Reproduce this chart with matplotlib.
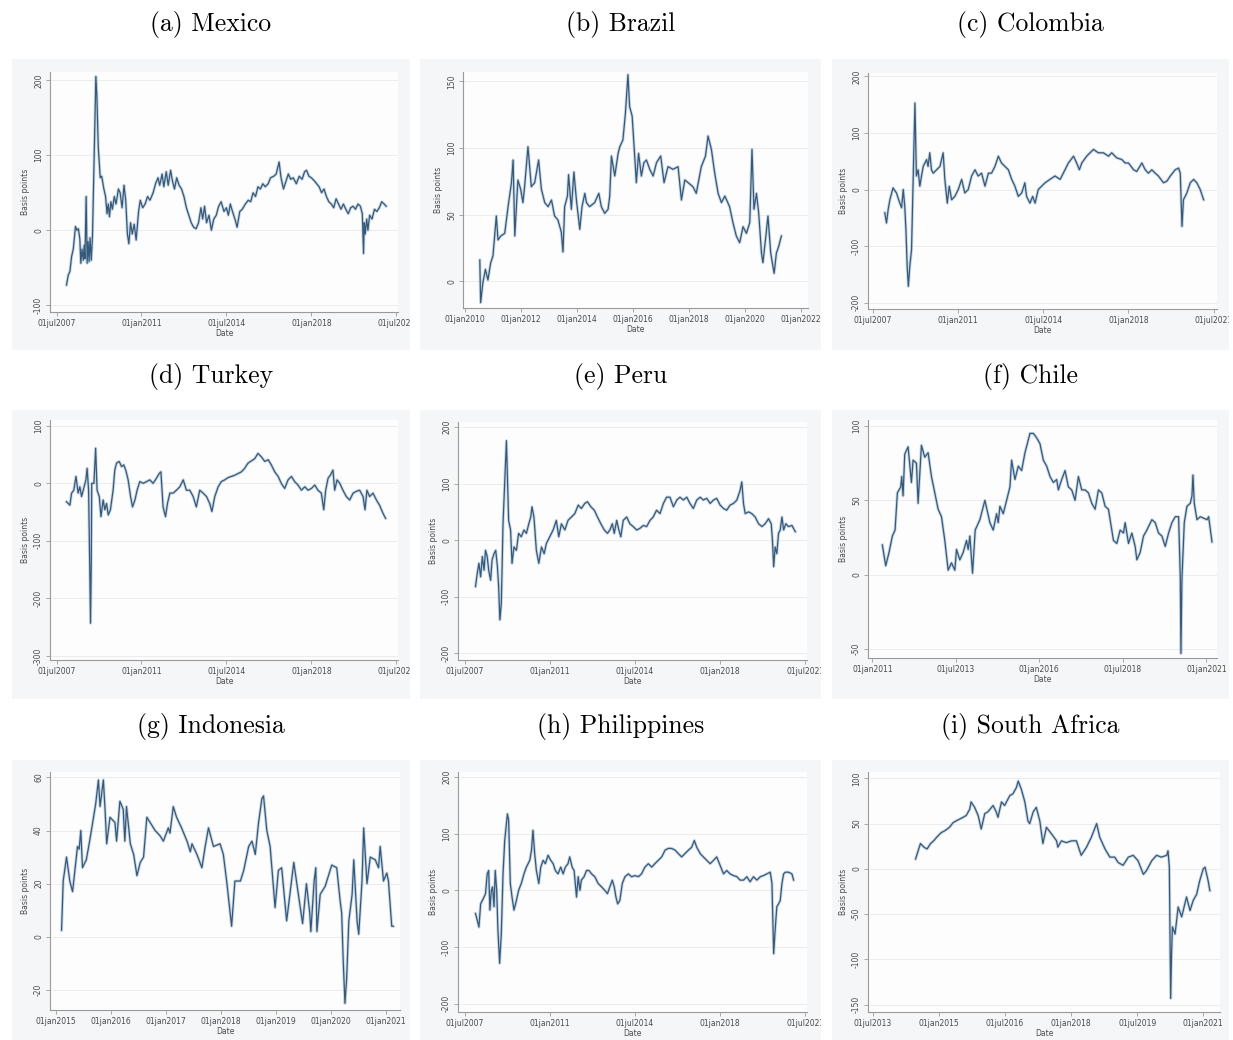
import matplotlib.pyplot as plt
from matplotlib.patches import Rectangle

# Weekly changes in sovereign spreads (basis points), decimal-year dates
mexico_t = [2007.91, 2007.98, 2008.05, 2008.12, 2008.19, 2008.28, 2008.34, 2008.40, 2008.46, 2008.50,
            2008.55, 2008.60, 2008.64, 2008.67, 2008.72, 2008.76, 2008.80, 2008.84, 2008.88, 2008.93,
            2008.98, 2009.05, 2009.12, 2009.16, 2009.22, 2009.30, 2009.36, 2009.45, 2009.52, 2009.58,
            2009.63, 2009.68, 2009.74, 2009.80, 2009.88, 2009.95, 2010.05, 2010.12, 2010.20, 2010.28,
            2010.35, 2010.42, 2010.48, 2010.55, 2010.62, 2010.70, 2010.78, 2010.88, 2010.95, 2011.05,
            2011.15, 2011.25, 2011.35, 2011.48, 2011.58, 2011.68, 2011.75, 2011.85, 2011.92, 2012.02,
            2012.10, 2012.20, 2012.28, 2012.36, 2012.45, 2012.55, 2012.65, 2012.75, 2012.85, 2012.95,
            2013.05, 2013.15, 2013.25, 2013.35, 2013.45, 2013.52, 2013.60, 2013.68, 2013.78, 2013.88,
            2013.98, 2014.08, 2014.18, 2014.28, 2014.40, 2014.50, 2014.58, 2014.66, 2014.75, 2014.85,
            2014.94, 2015.05, 2015.15, 2015.28, 2015.40, 2015.50, 2015.60, 2015.70, 2015.80, 2015.90,
            2016.00, 2016.10, 2016.22, 2016.32, 2016.45, 2016.55, 2016.67, 2016.75, 2016.85, 2016.95,
            2017.05, 2017.15, 2017.25, 2017.38, 2017.50, 2017.62, 2017.72, 2017.80, 2017.90, 2018.00,
            2018.12, 2018.22, 2018.32, 2018.42, 2018.52, 2018.62, 2018.72, 2018.82, 2018.92, 2019.02,
            2019.12, 2019.22, 2019.32, 2019.42, 2019.52, 2019.62, 2019.72, 2019.82, 2019.92, 2020.02,
            2020.10, 2020.15, 2020.18, 2020.22, 2020.28, 2020.33, 2020.40, 2020.50, 2020.60, 2020.70,
            2020.80, 2020.90, 2021.00, 2021.08]
mexico_bp = [-73, -60, -55, -35, -25, 5, 0, 2, -12, -44,
             -25, -40, -20, -38, 45, -44, -15, -42, -10, -40,
             -8, 100, 205, 180, 110, 70, 72, 55, 45, 22,
             35, 18, 38, 28, 45, 35, 55, 50, 30, 60,
             40, -5, -18, 10, -5, 8, -13, 25, 40, 30,
             35, 45, 40, 50, 62, 70, 60, 75, 58, 78,
             60, 80, 65, 55, 70, 60, 55, 45, 30, 20,
             10, 4, 2, 10, 30, 15, 32, 10, 20, 0,
             15, 20, 32, 38, 25, 30, 20, 35, 25, 15,
             4, 25, 28, 35, 40, 38, 50, 45, 58, 55,
             62, 58, 62, 70, 72, 75, 91, 70, 55, 65,
             75, 68, 70, 62, 72, 68, 78, 80, 72, 70,
             66, 62, 58, 50, 55, 45, 38, 35, 30, 42,
             35, 28, 35, 28, 22, 30, 32, 28, 35, 32,
             22, -31, 10, -5, 15, 0, 20, 15, 28, 25,
             30, 38, 35, 32]

brazil_t = [2010.54, 2010.57, 2010.65, 2010.74, 2010.83, 2010.93, 2011.01, 2011.13, 2011.19, 2011.29,
            2011.43, 2011.55, 2011.67, 2011.73, 2011.79, 2011.90, 2012.00, 2012.08, 2012.14, 2012.26,
            2012.38, 2012.50, 2012.64, 2012.74, 2012.86, 2012.98, 2013.10, 2013.21, 2013.33, 2013.45,
            2013.51, 2013.57, 2013.67, 2013.71, 2013.81, 2013.90, 2013.99, 2014.11, 2014.19, 2014.29,
            2014.35, 2014.46, 2014.64, 2014.79, 2014.88, 2015.00, 2015.12, 2015.18, 2015.24, 2015.36,
            2015.48, 2015.54, 2015.65, 2015.74, 2015.83, 2015.89, 2015.98, 2016.05, 2016.13, 2016.21,
            2016.31, 2016.40, 2016.49, 2016.61, 2016.73, 2016.85, 2017.00, 2017.12, 2017.26, 2017.44,
            2017.62, 2017.74, 2017.86, 2017.98, 2018.15, 2018.27, 2018.45, 2018.60, 2018.69, 2018.81,
            2018.93, 2019.05, 2019.17, 2019.29, 2019.46, 2019.58, 2019.70, 2019.82, 2019.94, 2020.06,
            2020.18, 2020.26, 2020.33, 2020.42, 2020.50, 2020.60, 2020.65, 2020.74, 2020.83, 2020.93,
            2021.05, 2021.13, 2021.21, 2021.31]
brazil_bp = [16, -16, -1, 9, 1, 14, 19, 49, 31, 34,
             36, 56, 74, 91, 34, 76, 69, 59, 71, 101,
             71, 74, 91, 69, 59, 56, 61, 49, 46, 37,
             22, 56, 64, 80, 54, 82, 61, 39, 56, 66,
             59, 56, 59, 66, 56, 51, 54, 64, 94, 79,
             96, 101, 106, 126, 155, 131, 124, 101, 74, 96,
             79, 89, 91, 84, 79, 89, 94, 74, 86, 84,
             86, 61, 76, 74, 71, 66, 86, 94, 109, 99,
             81, 66, 59, 64, 56, 44, 34, 29, 41, 36,
             44, 99, 54, 66, 51, 21, 14, 31, 49, 21,
             6, 21, 26, 34]

colombia_t = [2007.98, 2008.05, 2008.12, 2008.19, 2008.32, 2008.46, 2008.60, 2008.67, 2008.74, 2008.80,
              2008.85, 2008.90, 2008.95, 2009.01, 2009.08, 2009.22, 2009.28, 2009.35, 2009.42, 2009.49,
              2009.56, 2009.63, 2009.70, 2009.76, 2009.83, 2009.90, 2009.97, 2010.11, 2010.25, 2010.38,
              2010.45, 2010.55, 2010.63, 2010.73, 2010.86, 2011.00, 2011.14, 2011.27, 2011.41, 2011.55,
              2011.69, 2011.82, 2011.96, 2012.10, 2012.24, 2012.37, 2012.51, 2012.65, 2012.78, 2012.92,
              2013.06, 2013.20, 2013.33, 2013.47, 2013.61, 2013.74, 2013.81, 2013.95, 2014.06, 2014.16,
              2014.29, 2014.43, 2014.57, 2014.77, 2014.98, 2015.19, 2015.32, 2015.53, 2015.74, 2015.87,
              2015.98, 2016.08, 2016.28, 2016.56, 2016.76, 2016.97, 2017.18, 2017.31, 2017.52, 2017.73,
              2017.86, 2018.00, 2018.21, 2018.34, 2018.55, 2018.69, 2018.82, 2018.96, 2019.10, 2019.23,
              2019.44, 2019.58, 2019.72, 2019.92, 2020.06, 2020.13, 2020.20, 2020.26, 2020.33, 2020.40,
              2020.54, 2020.68, 2020.81, 2020.95, 2021.09]
colombia_bp = [-41, -59, -35, -18, 3, -6, -24, -32, 0, -29,
               -71, -135, -171, -135, -106, 153, 24, 35, 6, 24,
               41, 47, 53, 41, 65, 35, 29, 35, 41, 65,
               18, -24, 6, -18, -12, 0, 18, -6, 0, 24,
               35, 24, 29, 6, 29, 29, 41, 59, 47, 41,
               35, 18, 6, -12, -6, 12, -12, -24, -12, -24,
               0, 6, 12, 18, 24, 18, 29, 47, 59, 47,
               35, 47, 59, 71, 65, 65, 59, 65, 56, 53,
               47, 47, 35, 32, 47, 35, 29, 35, 29, 24,
               12, 15, 24, 35, 38, 29, -65, -18, -12, -6,
               12, 18, 12, 0, -18]

turkey_t = [2007.91, 2008.05, 2008.12, 2008.21, 2008.30, 2008.39, 2008.46, 2008.53, 2008.60, 2008.71,
            2008.76, 2008.82, 2008.87, 2008.90, 2008.93, 2008.95, 2009.04, 2009.11, 2009.17, 2009.26,
            2009.33, 2009.42, 2009.49, 2009.56, 2009.63, 2009.72, 2009.83, 2009.90, 2009.97, 2010.08,
            2010.18, 2010.27, 2010.35, 2010.45, 2010.55, 2010.63, 2010.73, 2010.82, 2010.93, 2011.07,
            2011.21, 2011.34, 2011.48, 2011.62, 2011.73, 2011.80, 2011.89, 2011.99, 2012.07, 2012.17,
            2012.30, 2012.44, 2012.58, 2012.72, 2012.85, 2012.99, 2013.13, 2013.26, 2013.40, 2013.54,
            2013.68, 2013.81, 2013.90, 2014.02, 2014.16, 2014.29, 2014.43, 2014.57, 2014.71, 2014.84,
            2014.98, 2015.12, 2015.25, 2015.39, 2015.53, 2015.67, 2015.80, 2015.94, 2016.08, 2016.22,
            2016.35, 2016.49, 2016.63, 2016.76, 2016.90, 2017.04, 2017.18, 2017.31, 2017.45, 2017.59,
            2017.73, 2017.86, 2018.00, 2018.14, 2018.27, 2018.41, 2018.51, 2018.59, 2018.69, 2018.78,
            2018.89, 2018.96, 2019.06, 2019.17, 2019.30, 2019.44, 2019.58, 2019.72, 2019.85, 2019.99,
            2020.13, 2020.21, 2020.29, 2020.40, 2020.54, 2020.68, 2020.81, 2020.95, 2021.06]
turkey_bp = [-32, -38, -17, -12, 12, -17, -6, -23, -12, 6,
             26, -12, -151, -243, -140, 0, 0, 61, -12, -23,
             -58, -29, -46, -35, -55, -46, -12, 23, 35, 38,
             29, 32, 23, 6, -23, -41, -29, -12, 3, 0,
             3, 6, 0, 9, 17, 20, -41, -58, -35, -17,
             -17, -12, -6, 6, -12, -12, -23, -41, -12, -17,
             -23, -35, -49, -23, -6, 3, 6, 10, 12, 14,
             17, 20, 26, 35, 39, 43, 52, 46, 38, 41,
             32, 20, 12, 0, -9, 6, 12, 3, -3, -12,
             -6, -12, -9, -3, -12, -17, -46, -12, 9, 14,
             23, -12, 6, 0, -12, -23, -29, -17, -14, -12,
             -23, -46, -12, -23, -17, -29, -38, -52, -61]

peru_t = [2007.95, 2008.02, 2008.09, 2008.16, 2008.23, 2008.30, 2008.36, 2008.43, 2008.49, 2008.57,
          2008.63, 2008.71, 2008.78, 2008.85, 2008.90, 2008.95, 2009.01, 2009.08, 2009.22, 2009.31,
          2009.39, 2009.45, 2009.53, 2009.63, 2009.72, 2009.83, 2009.94, 2010.04, 2010.14, 2010.22,
          2010.27, 2010.35, 2010.45, 2010.55, 2010.66, 2010.77, 2010.86, 2011.00, 2011.14, 2011.27,
          2011.37, 2011.48, 2011.62, 2011.75, 2011.89, 2012.03, 2012.17, 2012.30, 2012.44, 2012.55,
          2012.69, 2012.83, 2012.96, 2013.10, 2013.24, 2013.37, 2013.47, 2013.57, 2013.65, 2013.75,
          2013.84, 2013.92, 2014.02, 2014.16, 2014.29, 2014.43, 2014.57, 2014.71, 2014.84, 2014.98,
          2015.12, 2015.25, 2015.39, 2015.53, 2015.67, 2015.80, 2015.94, 2016.08, 2016.22, 2016.35,
          2016.49, 2016.63, 2016.76, 2016.90, 2017.04, 2017.18, 2017.31, 2017.45, 2017.59, 2017.73,
          2017.86, 2018.00, 2018.14, 2018.27, 2018.41, 2018.55, 2018.69, 2018.82, 2018.89, 2018.96,
          2019.03, 2019.17, 2019.30, 2019.44, 2019.58, 2019.72, 2019.85, 2019.99, 2020.10, 2020.15,
          2020.20, 2020.26, 2020.33, 2020.40, 2020.47, 2020.54, 2020.61, 2020.70, 2020.81, 2020.95,
          2021.09]
peru_bp = [-82, -59, -41, -65, -29, -53, -18, -29, -53, -71,
           -35, -24, -18, -47, -82, -141, -112, 29, 176, 35,
           18, -41, -12, -18, 12, 6, 18, 12, 29, 41,
           59, 41, -18, -41, -12, -24, -6, 6, 18, 35,
           6, 29, 18, 35, 41, 47, 62, 56, 65, 68,
           59, 53, 41, 29, 18, 12, 18, 29, 12, 35,
           18, 6, 35, 41, 29, 24, 18, 21, 26, 24,
           35, 41, 53, 47, 65, 76, 76, 59, 71, 76,
           71, 76, 65, 56, 71, 76, 71, 74, 65, 71,
           74, 62, 56, 53, 62, 65, 71, 88, 103, 65,
           47, 50, 47, 41, 29, 24, 29, 38, 29, 0,
           -47, -12, -24, 12, 18, 41, 18, 29, 24, 26,
           15]

chile_t = [2011.30, 2011.40, 2011.50, 2011.60, 2011.68, 2011.75, 2011.85, 2011.88, 2011.92, 2011.97,
           2012.07, 2012.17, 2012.22, 2012.32, 2012.37, 2012.47, 2012.57, 2012.67, 2012.77, 2012.87,
           2012.97, 2013.07, 2013.17, 2013.27, 2013.37, 2013.47, 2013.52, 2013.62, 2013.72, 2013.82,
           2013.87, 2013.92, 2014.00, 2014.08, 2014.22, 2014.37, 2014.52, 2014.62, 2014.72, 2014.77,
           2014.82, 2014.92, 2015.02, 2015.12, 2015.17, 2015.27, 2015.37, 2015.47, 2015.57, 2015.72,
           2015.82, 2015.92, 2016.02, 2016.12, 2016.22, 2016.32, 2016.42, 2016.52, 2016.57, 2016.67,
           2016.77, 2016.87, 2016.97, 2017.07, 2017.17, 2017.27, 2017.37, 2017.47, 2017.57, 2017.67,
           2017.77, 2017.87, 2017.97, 2018.07, 2018.17, 2018.22, 2018.32, 2018.42, 2018.52, 2018.57,
           2018.67, 2018.77, 2018.87, 2018.92, 2019.02, 2019.12, 2019.22, 2019.37, 2019.47, 2019.57,
           2019.67, 2019.77, 2019.87, 2019.97, 2020.07, 2020.17, 2020.22, 2020.24, 2020.27, 2020.34,
           2020.42, 2020.52, 2020.57, 2020.60, 2020.64, 2020.72, 2020.82, 2020.92, 2021.02, 2021.07,
           2021.17]
chile_bp = [20, 6, 15, 26, 30, 55, 59, 66, 53, 81,
            86, 62, 77, 75, 48, 87, 79, 82, 66, 55,
            44, 39, 23, 3, 8, 3, 17, 10, 15, 23,
            17, 26, 1, 30, 37, 50, 35, 30, 41, 35,
            46, 41, 50, 59, 77, 64, 73, 70, 82, 95,
            95, 92, 88, 77, 73, 66, 62, 64, 57, 64,
            70, 59, 57, 50, 66, 57, 57, 55, 48, 44,
            57, 55, 46, 44, 30, 23, 21, 30, 28, 35,
            21, 28, 19, 10, 15, 26, 30, 37, 35, 28,
            26, 19, 28, 35, 39, 39, -1, -53, -3, 35,
            46, 48, 53, 67, 48, 37, 39, 38, 37, 39,
            22]

indonesia_t = [2015.10, 2015.13, 2015.19, 2015.25, 2015.30, 2015.39, 2015.42, 2015.45, 2015.48, 2015.55,
               2015.61, 2015.65, 2015.72, 2015.77, 2015.80, 2015.86, 2015.89, 2015.92, 2015.98, 2016.07,
               2016.10, 2016.16, 2016.22, 2016.25, 2016.28, 2016.35, 2016.41, 2016.47, 2016.53, 2016.59,
               2016.65, 2016.71, 2016.80, 2016.89, 2016.95, 2017.04, 2017.07, 2017.13, 2017.19, 2017.28,
               2017.38, 2017.44, 2017.47, 2017.56, 2017.65, 2017.71, 2017.77, 2017.86, 2017.98, 2018.04,
               2018.10, 2018.19, 2018.25, 2018.35, 2018.41, 2018.50, 2018.56, 2018.62, 2018.68, 2018.74,
               2018.77, 2018.83, 2018.89, 2018.98, 2019.04, 2019.10, 2019.19, 2019.32, 2019.41, 2019.48,
               2019.55, 2019.61, 2019.63, 2019.69, 2019.72, 2019.74, 2019.80, 2019.89, 2020.01, 2020.10,
               2020.16, 2020.19, 2020.22, 2020.25, 2020.28, 2020.32, 2020.38, 2020.41, 2020.47, 2020.50,
               2020.56, 2020.59, 2020.65, 2020.71, 2020.80, 2020.86, 2020.89, 2020.95, 2021.01, 2021.04,
               2021.10, 2021.13]
indonesia_bp = [2.5, 21, 30, 21, 17, 34, 33, 40, 26, 29,
                36, 41, 50, 59, 49, 59, 48, 35, 45, 43,
                36, 51, 48, 36, 49, 35, 31, 23, 28, 30,
                45, 43, 40, 38, 36, 41, 39, 49, 45, 41,
                36, 32, 35, 31, 26, 34, 41, 34, 35, 31,
                21, 4, 21, 21, 25, 34, 36, 31, 43, 52,
                53, 40, 34, 11, 25, 26, 6, 28, 15, 5,
                20, 9, 2, 21, 26, 2, 16, 19, 27, 26,
                14, 9, -10, -25, -16, 6, 16, 29, 6, 1,
                21, 41, 20, 30, 29, 26, 34, 21, 24, 21,
                4, 4]

philippines_t = [2007.95, 2008.02, 2008.09, 2008.16, 2008.23, 2008.30, 2008.36, 2008.43, 2008.49, 2008.54,
                 2008.60, 2008.65, 2008.71, 2008.76, 2008.82, 2008.87, 2008.94, 2009.01, 2009.08, 2009.15,
                 2009.26, 2009.31, 2009.38, 2009.45, 2009.53, 2009.63, 2009.72, 2009.83, 2009.94, 2010.04,
                 2010.11, 2010.18, 2010.25, 2010.31, 2010.38, 2010.45, 2010.55, 2010.63, 2010.73, 2010.82,
                 2010.93, 2011.04, 2011.14, 2011.23, 2011.34, 2011.45, 2011.55, 2011.64, 2011.75, 2011.82,
                 2011.92, 2012.00, 2012.10, 2012.17, 2012.24, 2012.30, 2012.41, 2012.51, 2012.61, 2012.72,
                 2012.85, 2012.99, 2013.13, 2013.26, 2013.37, 2013.47, 2013.57, 2013.65, 2013.72, 2013.79,
                 2013.88, 2013.98, 2014.09, 2014.23, 2014.36, 2014.50, 2014.64, 2014.77, 2014.91, 2015.05,
                 2015.19, 2015.32, 2015.46, 2015.60, 2015.74, 2015.87, 2016.01, 2016.15, 2016.28, 2016.42,
                 2016.56, 2016.70, 2016.83, 2016.94, 2017.04, 2017.18, 2017.31, 2017.45, 2017.59, 2017.73,
                 2017.86, 2018.00, 2018.14, 2018.27, 2018.41, 2018.55, 2018.69, 2018.82, 2018.96, 2019.10,
                 2019.23, 2019.37, 2019.51, 2019.65, 2019.78, 2019.92, 2020.06, 2020.13, 2020.20, 2020.26,
                 2020.33, 2020.40, 2020.47, 2020.54, 2020.61, 2020.68, 2020.81, 2020.95, 2021.02]
philippines_bp = [-41, -53, -65, -24, -18, -12, -6, 29, 35, -35,
                  0, 6, -29, 35, 0, -70, -129, -76, 29, 88,
                  135, 124, 12, -12, -35, -18, 0, 12, 29, 41,
                  47, 53, 71, 106, 65, 35, 12, 41, 53, 47,
                  62, 53, 47, 35, 29, 41, 29, 41, 47, 59,
                  41, 35, -12, 24, 0, 18, 24, 35, 35, 29,
                  24, 12, 6, 0, -6, 6, 18, 6, -12, -24,
                  -18, 12, 24, 29, 24, 26, 24, 29, 41, 47,
                  41, 47, 53, 59, 71, 74, 74, 71, 65, 59,
                  65, 71, 76, 88, 76, 65, 59, 53, 47, 53,
                  59, 44, 29, 35, 29, 26, 24, 18, 18, 24,
                  15, 24, 18, 24, 26, 29, 32, 12, -112, -71,
                  -29, -24, -18, 12, 29, 32, 32, 29, 18]

south_africa_t = [2014.47, 2014.58, 2014.66, 2014.73, 2014.81, 2014.88, 2014.95, 2015.05, 2015.13, 2015.24,
                  2015.32, 2015.39, 2015.47, 2015.55, 2015.62, 2015.70, 2015.73, 2015.81, 2015.89, 2015.96,
                  2016.04, 2016.11, 2016.23, 2016.30, 2016.34, 2016.42, 2016.49, 2016.61, 2016.68, 2016.76,
                  2016.80, 2016.87, 2016.95, 2017.02, 2017.06, 2017.14, 2017.21, 2017.29, 2017.36, 2017.44,
                  2017.55, 2017.67, 2017.70, 2017.78, 2017.89, 2018.01, 2018.12, 2018.23, 2018.35, 2018.46,
                  2018.58, 2018.65, 2018.77, 2018.88, 2018.99, 2019.07, 2019.18, 2019.30, 2019.41, 2019.52,
                  2019.64, 2019.71, 2019.83, 2019.94, 2020.05, 2020.17, 2020.20, 2020.23, 2020.26, 2020.28,
                  2020.30, 2020.36, 2020.43, 2020.51, 2020.58, 2020.62, 2020.70, 2020.77, 2020.85, 2020.92,
                  2021.00, 2021.04, 2021.11, 2021.15]
south_africa_bp = [11, 28, 24, 22, 28, 31, 35, 40, 42, 46,
                   51, 53, 55, 57, 59, 66, 74, 68, 59, 44,
                   61, 63, 70, 63, 57, 74, 70, 81, 83, 90,
                   97, 88, 74, 53, 50, 63, 68, 53, 28, 46,
                   39, 31, 24, 31, 29, 31, 31, 15, 24, 35,
                   50, 35, 22, 13, 13, 7, 4, 13, 15, 9,
                   -6, -2, 9, 15, 13, 15, 20, 2, -143, -94,
                   -64, -72, -42, -53, -39, -31, -46, -35, -28, -13,
                   0, 2, -13, -24]

# Axis tick labels
ticks_2007 = [2007.5, 2011.0, 2014.5, 2018.0, 2021.5]
labels_2007 = ["01jul2007", "01jan2011", "01jul2014", "01jan2018", "01jul2021"]
ticks_2010 = [2010, 2012, 2014, 2016, 2018, 2020, 2022]
labels_2010 = ["01jan2010", "01jan2012", "01jan2014", "01jan2016", "01jan2018", "01jan2020", "01jan2022"]
ticks_2011 = [2011.0, 2013.5, 2016.0, 2018.5, 2021.0]
labels_2011 = ["01jan2011", "01jul2013", "01jan2016", "01jul2018", "01jan2021"]
ticks_2015 = [2015, 2016, 2017, 2018, 2019, 2020, 2021]
labels_2015 = ["01jan2015", "01jan2016", "01jan2017", "01jan2018", "01jan2019", "01jan2020", "01jan2021"]
ticks_2013 = [2013.5, 2015.0, 2016.5, 2018.0, 2019.5, 2021.0]
labels_2013 = ["01jul2013", "01jan2015", "01jul2016", "01jan2018", "01jul2019", "01jan2021"]

W, H = 1233, 1040
fig = plt.figure(figsize=(W / 100, H / 100), dpi=100)
fig.patch.set_facecolor("white")

LINE = "#35597a"
HALO = "#a9bfd3"
TXT = "#4a4a4a"

# title, x, y, graph box (l, t, r, b px), plot box, xlim, ylim, xticks, yticks
panels = [
    ("(a) Mexico", mexico_t, mexico_bp, (12, 59, 410, 350), (50, 72, 398, 312),
     (2007.23, 2021.57), (-109, 211), ticks_2007, labels_2007, [200, 100, 0, -100]),
    ("(b) Brazil", brazil_t, brazil_bp, (420, 59, 821, 350), (463, 72, 808, 308),
     (2009.94, 2022.26), (-20, 157), ticks_2010, labels_2010, [150, 100, 50, 0]),
    ("(c) Colombia", colombia_t, colombia_bp, (832, 59, 1229, 350), (868, 73, 1217, 309),
     (2007.29, 2021.64), (-211, 206), ticks_2007, labels_2007, [200, 100, 0, -100, -200]),
    ("(d) Turkey", turkey_t, turkey_bp, (12, 410, 410, 699), (50, 420, 398, 660),
     (2007.23, 2021.57), (-307, 110), ticks_2007, labels_2007, [100, 0, -100, -200, -300]),
    ("(e) Peru", peru_t, peru_bp, (420, 410, 821, 699), (458, 422, 807, 660),
     (2007.23, 2021.57), (-212, 209), ticks_2007, labels_2007, [200, 100, 0, -100, -200]),
    ("(f) Chile", chile_t, chile_bp, (832, 410, 1229, 699), (868, 420, 1217, 658),
     (2010.87, 2021.32), (-56, 104), ticks_2011, labels_2011, [100, 50, 0, -50]),
    ("(g) Indonesia", indonesia_t, indonesia_bp, (12, 760, 410, 1040), (50, 772, 400, 1010),
     (2014.89, 2021.25), (-27.5, 62), ticks_2015, labels_2015, [60, 40, 20, 0, -20]),
    ("(h) Philippines", philippines_t, philippines_bp, (420, 760, 821, 1040), (458, 772, 807, 1012),
     (2007.23, 2021.57), (-215, 209), ticks_2007, labels_2007, [200, 100, 0, -100, -200]),
    ("(i) South Africa", south_africa_t, south_africa_bp, (832, 760, 1229, 1040), (868, 772, 1220, 1012),
     (2013.39, 2021.38), (-158, 107), ticks_2013, labels_2013, [100, 50, 0, -50, -100, -150]),
]
title_y = [25, 377, 726]

for i, (title, t, v, box, pbox, xlim, ylim, xt, xl, yt) in enumerate(panels):
    gl, gt, gr, gb = box
    region = Rectangle((gl / W, 1 - gb / H), (gr - gl) / W, (gb - gt) / H,
                       transform=fig.transFigure, facecolor="#f5f6f7",
                       edgecolor="none", zorder=-5)
    fig.patches.append(region)
    fig.text((gl + gr) / 2 / W, 1 - title_y[i // 3] / H, title, family="cmr10",
             fontsize=18.5, ha="center", va="center")

    l, tp, r, b = pbox
    ax = fig.add_axes([l / W, 1 - b / H, (r - l) / W, (b - tp) / H])
    ax.set_zorder(1)
    ax.set_facecolor("#fdfdfd")
    ax.plot(t, v, color=HALO, linewidth=2.2, alpha=0.6, solid_joinstyle="round")
    ax.plot(t, v, color=LINE, linewidth=0.9, solid_joinstyle="round")
    ax.set_xlim(*xlim)
    ax.set_ylim(*ylim)

    for y in yt:
        ax.axhline(y, color="#ececec", linewidth=0.7, zorder=0)

    for side in ("top", "right"):
        ax.spines[side].set_visible(False)
    for side in ("left", "bottom"):
        ax.spines[side].set_color("#9a9a9a")
        ax.spines[side].set_linewidth(0.8)

    ax.set_xticks(xt, labels=xl)
    ax.set_yticks(yt, labels=[str(y) for y in yt])
    ax.tick_params(axis="both", length=3, width=0.6, color="#9a9a9a",
                   labelsize=5.5, labelcolor=TXT, pad=2)
    for lbl in ax.get_yticklabels():
        lbl.set_rotation(90)
        lbl.set_va("center")
    for lbl in ax.get_xticklabels():
        lbl.set_clip_path(region)
    ax.set_xlabel("Date", fontsize=5.5, color=TXT, labelpad=1)
    ax.set_ylabel("Basis points", fontsize=5.5, color=TXT, labelpad=3)

fig.savefig("out.png", dpi=100)
